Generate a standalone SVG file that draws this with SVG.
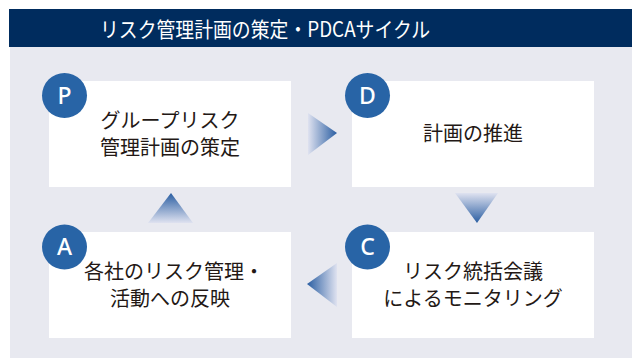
<svg xmlns="http://www.w3.org/2000/svg" width="632" height="358" viewBox="0 0 632 358">
<style>
.box{fill:#ffffff}
.badge{fill:#2864a6}
.lbl{font-family:"Noto Sans CJK JP","Noto Sans",sans-serif;font-size:20px;fill:#231815;text-anchor:middle}
.ltr{font-family:"Noto Sans","Liberation Sans",sans-serif;font-size:23px;fill:#ffffff;text-anchor:middle;font-weight:500}
.title{font-family:"Noto Sans CJK JP","Noto Sans",sans-serif;font-size:21px;fill:#ffffff;text-anchor:middle}
</style>
<defs>
<linearGradient id="gR" x1="0" y1="0" x2="1" y2="0"><stop offset="0" stop-color="#dfe2f0"/><stop offset="1" stop-color="#2a5ea2"/></linearGradient>
<linearGradient id="gL" x1="1" y1="0" x2="0" y2="0"><stop offset="0" stop-color="#dfe2f0"/><stop offset="1" stop-color="#2a5ea2"/></linearGradient>
<linearGradient id="gD" x1="0" y1="0" x2="0" y2="1"><stop offset="0" stop-color="#dfe2f0"/><stop offset="1" stop-color="#2a5ea2"/></linearGradient>
<linearGradient id="gU" x1="0" y1="1" x2="0" y2="0"><stop offset="0" stop-color="#dfe2f0"/><stop offset="1" stop-color="#2a5ea2"/></linearGradient>
</defs>
<rect x="10" y="47" width="622" height="311" fill="#e8e9f0"/>
<g id="title">
<rect x="9" y="9" width="623" height="38" fill="#002c5e"/>
<text class="title" x="265" y="36.5" textLength="330" lengthAdjust="spacingAndGlyphs">リスク管理計画の策定・PDCAサイクル</text>
</g>
<g id="connectors">
<polygon points="308,113 337,133 308,155" fill="url(#gR)"/>
<polygon points="455,193 498,193 477,223" fill="url(#gD)"/>
<polygon points="337,263 307,284 337,307" fill="url(#gL)"/>
<polygon points="148,223 171,193 193,223" fill="url(#gU)"/>
</g>
<g id="node-P">
<rect class="box" x="49" y="81" width="242" height="106"/>
<circle class="badge" cx="64.5" cy="95.5" r="22.5"/>
<text class="ltr" x="64.5" y="103.5">P</text>
<text class="lbl" x="170" y="128">グループリスク</text>
<text class="lbl" x="170" y="155">管理計画の策定</text>
</g>
<g id="node-D">
<rect class="box" x="352" y="81" width="242" height="106"/>
<circle class="badge" cx="367.5" cy="95.5" r="22.5"/>
<text class="ltr" x="367.5" y="103.5">D</text>
<text class="lbl" x="473" y="141">計画の推進</text>
</g>
<g id="node-C">
<rect class="box" x="352" y="232" width="242" height="106"/>
<circle class="badge" cx="367.5" cy="247" r="22.5"/>
<text class="ltr" x="367.5" y="255">C</text>
<text class="lbl" x="473" y="279">リスク統括会議</text>
<text class="lbl" x="473" y="306">によるモニタリング</text>
</g>
<g id="node-A">
<rect class="box" x="49" y="232" width="242" height="106"/>
<circle class="badge" cx="64.5" cy="247" r="22.5"/>
<text class="ltr" x="64.5" y="255">A</text>
<text class="lbl" x="174" y="279">各社のリスク管理・</text>
<text class="lbl" x="170" y="306">活動への反映</text>
</g>
</svg>
